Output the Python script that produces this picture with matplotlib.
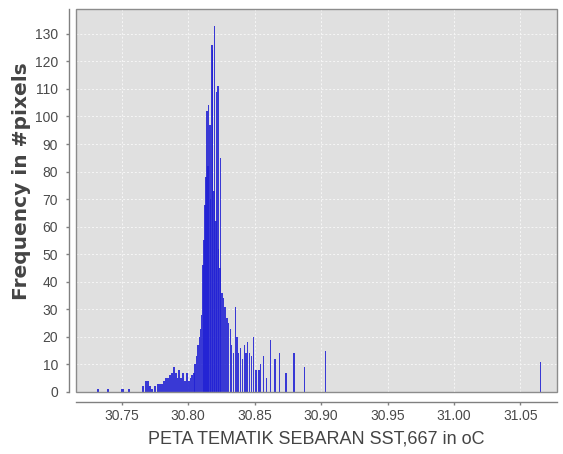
import matplotlib
matplotlib.use("Agg")
import matplotlib.pyplot as plt
from matplotlib.patches import Rectangle

# histogram bins of the SST band: bin centre (oC) and pixel count
sst_bins = [
    30.7322, 30.7397, 30.7502, 30.7514, 30.7555,
    30.7660, 30.7683, 30.7698, 30.7713, 30.7728, 30.7750, 30.7773, 30.7788,
    30.7803, 30.7818, 30.7833, 30.7848, 30.7863, 30.7878, 30.7893, 30.7908,
    30.7920, 30.7931, 30.7946, 30.7961, 30.7976, 30.7991, 30.8006, 30.8017,
    30.8029, 30.8044, 30.8051, 30.8063, 30.8074, 30.8085, 30.8093, 30.8102,
    30.8111, 30.8119, 30.8126, 30.8134, 30.8141, 30.8149, 30.8156, 30.8164,
    30.8171, 30.8179, 30.8186, 30.8194, 30.8201, 30.8209, 30.8216, 30.8224,
    30.8231, 30.8239, 30.8246, 30.8254, 30.8266, 30.8277, 30.8292, 30.8305,
    30.8317, 30.8329, 30.8342, 30.8354, 30.8367, 30.8380, 30.8392, 30.8408,
    30.8422, 30.8435, 30.8448, 30.8460, 30.8475, 30.8493, 30.8505, 30.8517,
    30.8533, 30.8544, 30.8568, 30.8587, 30.8620, 30.8653, 30.8690, 30.8736,
    30.8796, 30.8878, 30.9031, 31.0653,
]
pixel_counts = [
    1, 1, 1, 1, 1,
    2, 4, 4, 2, 1, 2, 3, 3,
    3, 4, 5, 5, 6, 7, 9, 7,
    5, 8, 5, 7, 4, 7, 4, 5,
    6, 7, 10, 13, 17, 20, 23, 28,
    46, 55, 68, 78, 102, 82, 104, 97,
    70, 126, 124, 73, 133, 62, 109, 111,
    52, 45, 85, 36, 34, 31, 27, 25,
    23, 17, 14, 31, 20, 14, 16, 12,
    17, 14, 18, 14, 13, 20, 8, 8,
    8, 10, 13, 5, 19, 12, 14, 7,
    14, 9, 15, 11,
]

x_ticks = [30.75, 30.80, 30.85, 30.90, 30.95, 31.00, 31.05]
y_ticks = list(range(0, 140, 10))

plt.rcParams['font.family'] = ['Liberation Sans', 'DejaVu Sans']

fig = plt.figure(figsize=(5.63, 4.54), dpi=100)
ax = fig.add_axes([0.135, 0.1366, 0.854, 0.8436])
ax.set_facecolor('#e0e0e0')

ax.bar(sst_bins, pixel_counts, width=0.0009, color='#2222d4',
       edgecolor='none', alpha=0.88, zorder=3)

ax.set_xlim(30.7156, 31.0774)
ax.set_ylim(0, 139)
ax.set_xticks(x_ticks)
ax.set_xticklabels(['%.2f' % t for t in x_ticks])
ax.set_yticks(y_ticks)

ax.grid(True, color='#f6f6f6', linestyle=(0, (2, 2)), linewidth=0.7, zorder=1)

# axis lines sit slightly away from the plot area
ax.spines['left'].set_position(('outward', 5))
ax.spines['bottom'].set_position(('outward', 7))
for side in ['left', 'bottom']:
    ax.spines[side].set_color('#808080')
    ax.spines[side].set_linewidth(1.0)
ax.spines['top'].set_visible(False)
ax.spines['right'].set_visible(False)
ax.add_patch(Rectangle((0, 0), 1, 1, transform=ax.transAxes, fill=False,
                       edgecolor='#8c8c8c', linewidth=1.0, zorder=4, clip_on=False))

ax.tick_params(axis='both', colors='#808080', labelcolor='#4a4a4a',
               labelsize=10, length=2, width=1)
ax.tick_params(axis='y', pad=6)
ax.tick_params(axis='x', pad=3)

ax.set_xlabel('PETA TEMATIK SEBARAN SST,667 in oC', fontsize=13,
              color='#444444', labelpad=6)
ax.set_ylabel('Frequency in #pixels', fontsize=14.5, fontweight='bold',
              color='#444444', family=['DejaVu Sans'])
ax.yaxis.set_label_coords(-0.094, 0.55)

fig.savefig('out.png', dpi=100)
